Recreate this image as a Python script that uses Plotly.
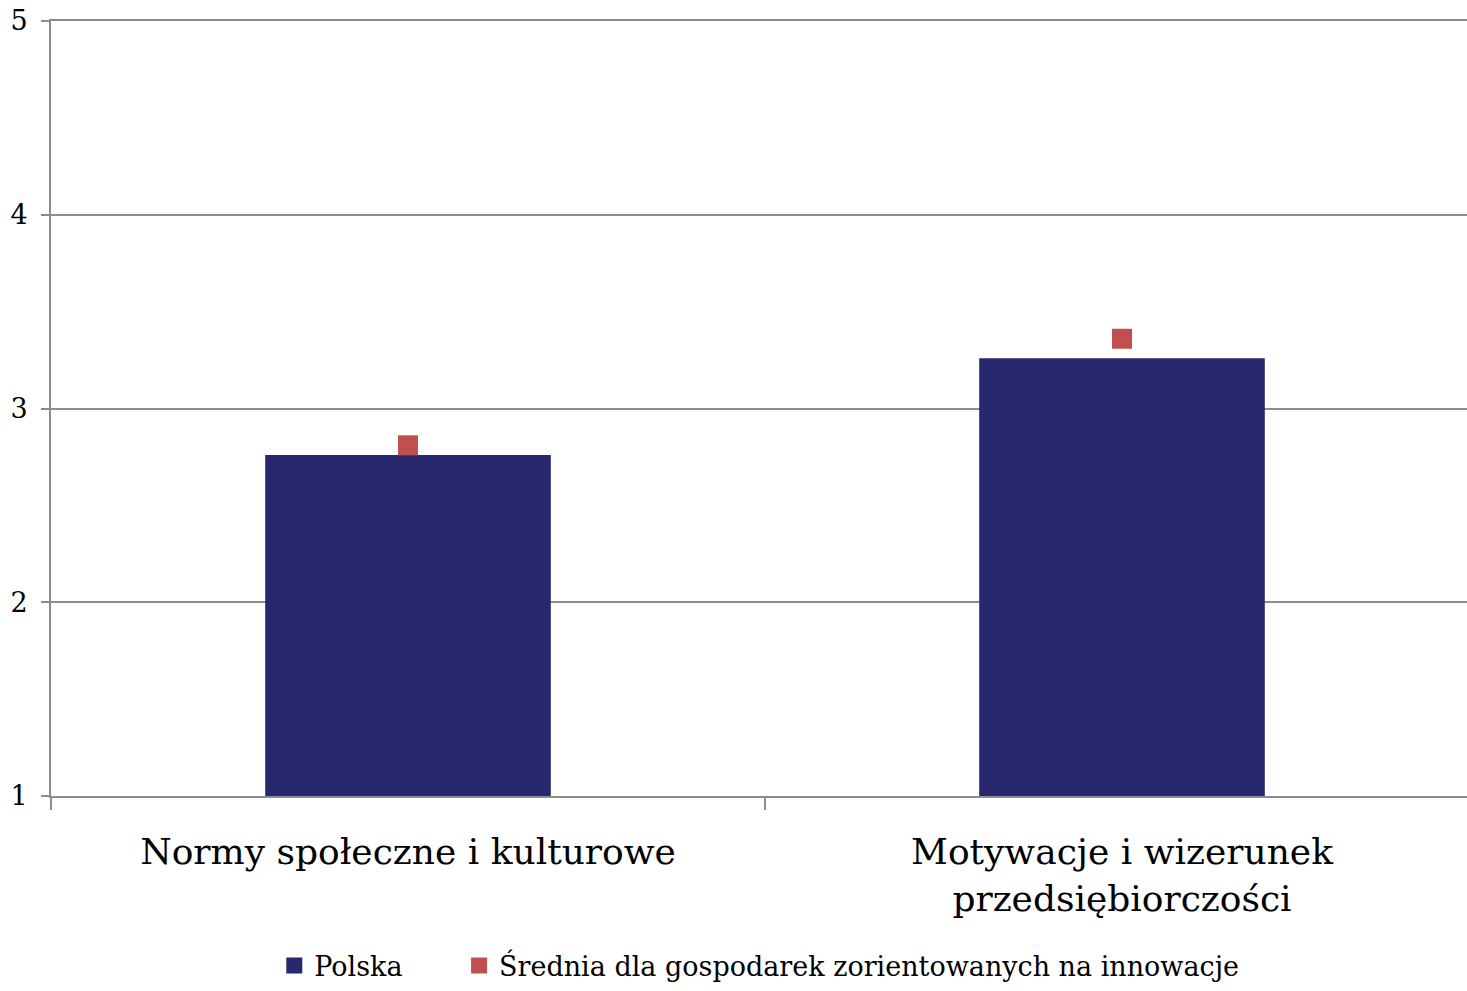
import plotly.graph_objects as go

categories = ["Normy społeczne i kulturowe", "Motywacje i wizerunek<br>przedsiębiorczości"]
polska = [2.76, 3.26]
srednia = [2.81, 3.36]
y_ticks = [1, 2, 3, 4, 5]

FONT = "DejaVu Serif"
NAVY = "#28286F"
RED = "#C0504D"
GRID = "#8c8c8c"

fig = go.Figure()

fig.add_trace(
    go.Bar(
        x=categories,
        y=polska,
        base=0,
        name="Polska",
        showlegend=False,
        marker=dict(color=NAVY, line=dict(width=0)),
        width=0.40,
    )
)

# legend entry for the bars (square symbol, larger than plotly's bar icon)
fig.add_trace(
    go.Scatter(
        x=[None],
        y=[None],
        mode="markers",
        name="Polska" + "\u00a0" * 6,
        marker=dict(symbol="square", size=16, color=NAVY),
    )
)

fig.add_trace(
    go.Scatter(
        x=categories,
        y=srednia,
        mode="markers",
        name="Średnia dla gospodarek zorientowanych na innowacje",
        marker=dict(symbol="square", size=20, color=RED),
    )
)

# the original chart is slightly cropped on the right, so the figure is a bit
# wider than the window and the page clips it
fig.update_layout(
    width=1479,
    height=991,
    plot_bgcolor="white",
    paper_bgcolor="white",
    font=dict(family=FONT, color="black"),
    margin=dict(l=51, r=0, t=21, b=186),
    showlegend=True,
    legend=dict(
        orientation="h",
        x=0.496,
        xanchor="center",
        y=-0.2194,
        yanchor="middle",
        font=dict(size=27, family=FONT),
        itemsizing="trace",
        traceorder="normal",
    ),
    xaxis=dict(
        type="category",
        tickson="boundaries",
        ticks="outside",
        ticklen=12,
        tickwidth=2,
        tickcolor=GRID,
        showgrid=False,
        showline=True,
        mirror=True,
        linecolor=GRID,
        linewidth=2,
        tickfont=dict(size=36, family=FONT),
        ticklabelstandoff=23,
        range=[-0.5, 1.5],
        automargin=False,
    ),
    yaxis=dict(
        range=[1, 5],
        tickvals=y_ticks,
        ticks="outside",
        ticklen=8,
        tickwidth=2,
        tickcolor=GRID,
        showgrid=True,
        gridcolor=GRID,
        gridwidth=2,
        showline=True,
        linecolor=GRID,
        linewidth=2,
        zeroline=False,
        tickfont=dict(size=27, family=FONT),
        ticklabelstandoff=8,
        automargin=False,
    ),
)

page_fix = (
    "for (const el of [document.documentElement, document.body]) {"
    "el.style.margin='0'; el.style.padding='0'; el.style.overflow='hidden';"
    "el.style.width='1467px'; el.style.height='991px'; }"
)

fig.write_html(
    "out.html",
    config={"displayModeBar": False},
    post_script=page_fix,
)
